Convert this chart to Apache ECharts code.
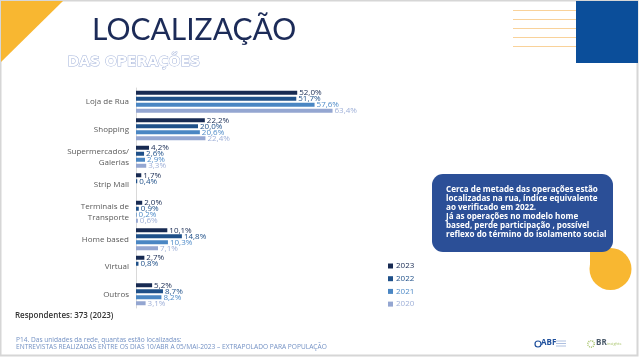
<!DOCTYPE html>
<html><head><meta charset="utf-8">
<script src="https://cdn.jsdelivr.net/npm/echarts@6/dist/echarts.min.js"></script>
<style>html,body{margin:0;padding:0;background:#fff}#c{width:639px;height:358px}</style>
</head><body><div id="c"></div>
<script>
var categories = ['Loja de Rua', 'Shopping', 'Supermercados/\nGalerias', 'Strip Mall', 'Terminais de\nTransporte', 'Home based', 'Virtual', 'Outros'];
var years = ['2023', '2022', '2021', '2020'];
var v2023 = [52.0, 22.2, 4.2, 1.7, 2.0, 10.1, 2.7, 5.2];
var v2022 = [51.7, 20.0, 2.6, 0.4, 0.9, 14.8, 0.8, 8.7];
var v2021 = [57.6, 20.6, 2.9, null, 0.2, 10.3, null, 8.2];
var v2020 = [63.4, 22.4, 3.3, null, 0.6, 7.1, null, 3.1];
var seriesValues = [v2023, v2022, v2021, v2020];
var barColors = ['#172a52', '#1f5089', '#4a86c3', '#94a6d1'];
var labelColors = ['#172a52', '#1f5089', '#4f8bc8', '#9fb0d8'];
var calloutLines = ['Cerca de metade das operações estão', 'localizadas na rua, índice equivalente', 'ao verificado em 2022.', 'Já as operações no modelo home', 'based, perde participação , possível', 'reflexo do término do isolamento social'];

var chart = echarts.init(document.getElementById('c'), null, {renderer: 'canvas'});
var series = years.map(function (y, i) {
  return {
    name: y, type: 'bar', data: seriesValues[i], barWidth: 4, barGap: '50%', barCategoryGap: '20%',
    itemStyle: {color: barColors[i]},
    label: {show: true, position: 'right', distance: 2, fontSize: 8, fontFamily: 'Open Sans', color: labelColors[i],
      formatter: function (p) { return p.value == null ? '' : p.value.toFixed(1).replace('.', ',') + '%'; }}
  };
});
var g = [];
// slide frame
g.push({type: 'rect', shape: {x: 0.5, y: 0.5, width: 637, height: 355}, style: {fill: '#fff', stroke: '#d6d6d6', lineWidth: 2}, z: -10});
g.push({type: 'polygon', shape: {points: [[1, 1], [63, 1], [1, 62]]}, style: {fill: '#f8b731'}});
g.push({type: 'rect', shape: {x: 576, y: 1, width: 62, height: 62}, style: {fill: '#0b4e9a'}});
[10, 19, 28, 37, 46].forEach(function (yy) {
  g.push({type: 'line', shape: {x1: 513, y1: yy + 0.5, x2: 576, y2: yy + 0.5}, style: {stroke: '#f9d29a', lineWidth: 1}});
});
g.push({type: 'text', left: 92, top: 15, style: {text: 'LOCALIZAÇÃO', font: '30px Lato', fill: '#1c2b58'}});
g.push({type: 'text', left: 67, top: 55, style: {text: 'DAS OPERAÇÕES', font: 'bold 14px "DejaVu Sans"', fill: '#ffffff', stroke: '#a3b3da', lineWidth: 1}});
// callout
g.push({type: 'rect', shape: {x: 590, y: 248, width: 20.5, height: 21}, style: {fill: '#f8b731'}});
g.push({type: 'circle', shape: {cx: 610.5, cy: 269, r: 21}, style: {fill: '#f8b731'}});
g.push({type: 'rect', shape: {x: 432, y: 174, width: 181, height: 78, r: 11}, style: {fill: '#2b4f97'}});
g.push({type: 'text', left: 446, top: 185.5, style: {text: calloutLines.join('\n'), font: 'bold 8.1px "Open Sans"', fill: '#ffffff', lineHeight: 8.9}});
// footnotes
g.push({type: 'text', left: 15, top: 312, style: {text: 'Respondentes: 373 (2023)', font: '600 8px "Open Sans"', fill: '#333333'}});
g.push({type: 'text', left: 16, top: 337, style: {text: 'P14. Das unidades da rede, quantas estão localizadas:\nENTREVISTAS REALIZADAS ENTRE OS DIAS 10/ABR A 05/MAI-2023 – EXTRAPOLADO PARA POPULAÇÃO', font: '6.6px "Open Sans"', fill: '#7391c4', lineHeight: 6.2}});
// logos
g.push({type: 'circle', shape: {cx: 538, cy: 344, r: 3}, style: {fill: 'none', stroke: '#1e4f9c', lineWidth: 1.2}});
g.push({type: 'text', left: 541, top: 339, style: {text: 'ABF', font: 'bold 8px "Open Sans"', fill: '#1e4f9c'}});
[341, 343.5, 346].forEach(function (yy) { g.push({type: 'line', shape: {x1: 556, y1: yy, x2: 566, y2: yy}, style: {stroke: '#9ab0d8', lineWidth: 0.8}}); });
g.push({type: 'circle', shape: {cx: 591, cy: 344, r: 3.2}, style: {fill: 'none', stroke: '#a8c46a', lineWidth: 1.5, lineDash: [1, 1]}});
g.push({type: 'text', left: 596, top: 339, style: {text: 'BR', font: 'bold 8px "Open Sans"', fill: '#4a5a6a'}});
g.push({type: 'text', left: 607, top: 341.5, style: {text: 'insights', font: '4px "Open Sans"', fill: '#a8c46a'}});

chart.setOption({
  animation: false,
  grid: {left: 136, top: 88, width: 310, height: 220, containLabel: false},
  legend: {orient: 'vertical', left: 383, top: 257, itemWidth: 5, itemHeight: 5, itemGap: 4.7, icon: 'rect',
    data: years.map(function (y, i) { return {name: y, textStyle: {color: labelColors[i]}}; }),
    textStyle: {fontSize: 8, fontFamily: 'Open Sans', padding: [0, 0, 0, -2]}},
  xAxis: {type: 'value', min: 0, max: 100, show: false},
  yAxis: {type: 'category', data: categories, inverse: true,
    axisLine: {show: true, lineStyle: {color: '#d9d9d9', width: 1}}, axisTick: {show: false},
    axisLabel: {fontSize: 8, fontFamily: 'Open Sans', color: '#595959', lineHeight: 11, margin: 7}},
  series: series,
  graphic: g
});
</script></body></html>
